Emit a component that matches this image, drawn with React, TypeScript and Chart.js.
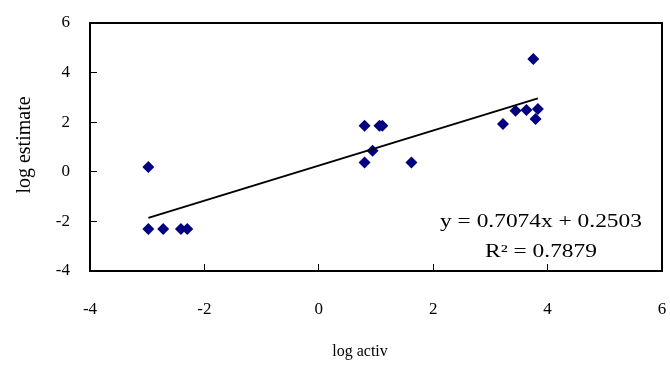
import React, { useEffect, useRef } from "react";
import { Chart, registerables } from "chart.js";

Chart.register(...registerables);

// Measured points (log activ, log estimate)
const logActiv = [-2.98, -2.98, -2.72, -2.41, -2.3, 0.8, 0.8, 0.94, 1.06, 1.11, 1.62, 3.22, 3.44, 3.63, 3.75, 3.79, 3.83];
const logEstimate = [0.19, -2.31, -2.31, -2.31, -2.31, 1.86, 0.38, 0.85, 1.86, 1.86, 0.38, 1.93, 2.46, 2.49, 4.55, 2.13, 2.53];

// Trendline parameters shown in the chart
const slope = 0.7074;
const intercept = 0.2503;
const equationLines = ["y = 0.7074x + 0.2503", "R\u00B2 = 0.7879"];

const xTitle = "log activ";
const yTitle = "log estimate";
const xRange = [-4, 6];
const yRange = [-4, 6];
const tickStep = 2;

const FONT = "'Liberation Serif', 'Times New Roman', serif";

const overlayPlugin = {
  id: "overlay",
  afterDraw(chart: any) {
    const { ctx, chartArea } = chart;
    ctx.save();
    // plot frame
    ctx.strokeStyle = "#000";
    ctx.lineWidth = 2;
    ctx.strokeRect(chartArea.left, chartArea.top, chartArea.right - chartArea.left, chartArea.bottom - chartArea.top);

    ctx.fillStyle = "#000";
    // x title
    ctx.font = `16px ${FONT}`;
    ctx.textAlign = "center";
    ctx.textBaseline = "alphabetic";
    ctx.fillText(xTitle, 360, 356);

    // y title
    ctx.save();
    ctx.translate(30, 145);
    ctx.rotate(-Math.PI / 2);
    ctx.font = `20px ${FONT}`;
    ctx.fillText(yTitle, 0, 0);
    ctx.restore();

    // equation
    ctx.font = `18px ${FONT}`;
    const baselines = [227, 257];
    equationLines.forEach((t, i) => {
      ctx.save();
      ctx.translate(541, baselines[i]);
      ctx.scale(1.3, 1);
      ctx.fillText(t, 0, 0);
      ctx.restore();
    });
    ctx.restore();
  },
};

export default function App() {
  const ref = useRef<HTMLCanvasElement | null>(null);

  useEffect(() => {
    if (!ref.current) return;
    const points = logActiv.map((x, i) => ({ x, y: logEstimate[i] }));
    const xMin = Math.min(...logActiv);
    const xMax = Math.max(...logActiv);
    const trend = [
      { x: xMin, y: slope * xMin + intercept },
      { x: xMax, y: slope * xMax + intercept },
    ];
    const chart = new Chart(ref.current, {
      type: "scatter",
      data: {
        datasets: [
          {
            type: "line",
            data: trend,
            borderColor: "#000",
            borderWidth: 2,
            pointRadius: 0,
            fill: false,
          } as any,
          {
            data: points,
            pointStyle: "rectRot",
            pointRadius: 6,
            backgroundColor: "#000080",
            borderWidth: 0,
          },
        ],
      },
      options: {
        animation: false,
        responsive: false,
        layout: { padding: { left: 0, right: 8, top: 23, bottom: 0 } },
        plugins: { legend: { display: false }, tooltip: { enabled: false } },
        scales: {
          x: {
            type: "linear",
            min: xRange[0],
            max: xRange[1],
            ticks: { stepSize: tickStep, color: "#000", padding: 35, font: { family: FONT, size: 17 } },
            grid: { drawOnChartArea: false, tickLength: -7, color: "#000", lineWidth: 1 },
            border: { display: true, color: "#000", width: 2 },
            afterFit: (s: any) => {
              s.height = 94;
              s.paddingLeft = 0;
              s.paddingRight = 0;
            },
          },
          y: {
            type: "linear",
            min: yRange[0],
            max: yRange[1],
            ticks: { stepSize: tickStep, color: "#000", padding: 27, font: { family: FONT, size: 17 } },
            grid: { drawOnChartArea: false, tickLength: -7, color: "#000", lineWidth: 1 },
            border: { display: true, color: "#000", width: 2 },
            afterFit: (s: any) => {
              s.width = 90;
              s.paddingTop = 0;
              s.paddingBottom = 0;
            },
          },
        },
      },
      plugins: [overlayPlugin],
    });
    return () => chart.destroy();
  }, []);

  return (
    <div style={{ position: "fixed", left: 0, top: 0, width: 670, height: 365, background: "#fff" }}>
      <canvas ref={ref} width={670} height={365} />
    </div>
  );
}
